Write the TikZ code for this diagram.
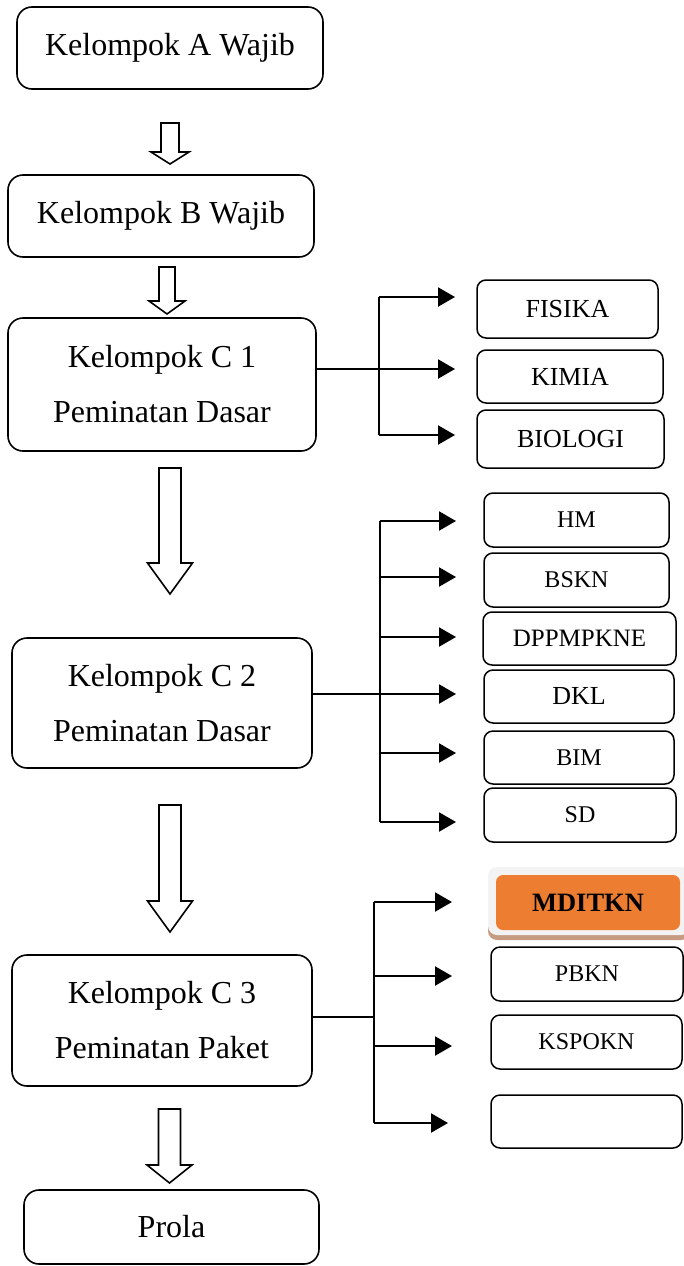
\documentclass[tikz,border=0pt]{standalone}
\usepackage{fontspec}
\setmainfont{Liberation Serif}
\usetikzlibrary{arrows.meta}
\definecolor{orng}{HTML}{ED7D31}
\definecolor{shadowbrown}{HTML}{C79B82}
\definecolor{glow}{HTML}{F3F3F3}
\tikzset{
  bigbox/.style={draw, line width=1.6pt, rounded corners=15pt, inner sep=0pt, align=center,
    font=\fontsize{32}{55}\selectfont},
  smallbox/.style={draw, line width=1.5pt, rounded corners=9pt, inner sep=0pt,
    font=\fontsize{25}{30}\selectfont},
  branch/.style={line width=2.2pt},
  arr/.style={line width=2.2pt, -{Triangle[length=17pt,width=19pt]}},
  blockarr/.style={draw, line width=1.6pt, fill=white, line join=miter}
}
\newcommand{\blockarrow}[7]{% cx, ytop, yhead, ytip, halfshaft, halfhead
  \draw[blockarr] (#1-#5,#2) -- (#1+#5,#2) -- (#1+#5,#3) -- (#1+#6,#3) -- (#1,#4)
    -- (#1-#6,#3) -- (#1-#5,#3) -- cycle;}
\begin{document}
\begin{tikzpicture}[x=1pt,y=-1pt]
\useasboundingbox (0,0) rectangle (683,1266);

% main column
\node[bigbox, minimum width=306pt, minimum height=82pt] (A) at (170,48) {Kelompok A Wajib};
\node[bigbox, minimum width=306pt, minimum height=82pt] (B) at (161,216) {Kelompok B Wajib};
\node[bigbox, minimum width=308pt, minimum height=133pt] (C1) at (162,384.5) {Kelompok C 1\\Peminatan Dasar};
\node[bigbox, minimum width=300pt, minimum height=130pt] (C2) at (162,703) {Kelompok C 2\\Peminatan Dasar};
\node[bigbox, minimum width=300pt, minimum height=131pt] (C3) at (162,1020.5) {Kelompok C 3\\Peminatan Paket};
\node[bigbox, minimum width=295pt, minimum height=74pt] (P) at (171.5,1227) {Prola};

% block arrows
\blockarrow{170}{123}{152}{164}{9}{19}{}
\blockarrow{167}{267}{301}{314}{8}{18}{}
\blockarrow{170}{468}{563}{594}{11}{22.5}{}
\blockarrow{170}{805}{901}{932}{11}{22.5}{}
\blockarrow{169.5}{1109}{1165}{1183}{11}{22.5}{}

% group 1
\node[smallbox, minimum width=181pt, minimum height=58pt, font=\fontsize{26}{30}\selectfont] (fis) at (567.5,309) {FISIKA};
\node[smallbox, minimum width=186pt, minimum height=53pt, font=\fontsize{26}{30}\selectfont] (kim) at (570,376.5) {KIMIA};
\node[smallbox, minimum width=187pt, minimum height=58pt, font=\fontsize{26}{30}\selectfont] (bio) at (570.5,439) {BIOLOGI};
\coordinate (g1t) at (379,297);
\coordinate (g1m) at (379,369);
\coordinate (g1b) at (379,435);
\coordinate (e1a) at (455,297);
\coordinate (e1b) at (455,369);
\coordinate (e1c) at (455,435);
\draw[branch] (g1t) -- (g1b);
\draw[arr] (g1t) -- (e1a);
\draw[arr] (C1.east |- g1m) -- (e1b);
\draw[arr] (g1b) -- (e1c);

% group 2
\node[smallbox, minimum width=185pt, minimum height=54pt, font=\fontsize{24}{30}\selectfont] (hm) at (576.5,520) {HM};
\node[smallbox, minimum width=185pt, minimum height=54pt, font=\fontsize{24}{30}\selectfont] (bskn) at (576.5,580) {BSKN};
\node[smallbox, minimum width=193pt, minimum height=53pt, font=\fontsize{25}{30}\selectfont] (dpp) at (579.5,638.5) {DPPMPKNE};
\node[smallbox, minimum width=190pt, minimum height=53pt, font=\fontsize{26}{30}\selectfont] (dkl) at (579,696.5) {DKL};
\node[smallbox, minimum width=190pt, minimum height=53pt, font=\fontsize{24}{30}\selectfont] (bim) at (579,757.5) {BIM};
\node[smallbox, minimum width=192pt, minimum height=54pt, font=\fontsize{24}{30}\selectfont] (sd) at (580,815) {SD};
\coordinate (g2t) at (380,521);
\coordinate (g2b) at (380,822);
\draw[branch] (g2t) -- (g2b);
\coordinate (e2a) at (456,521);
\coordinate (e2b) at (456,577);
\coordinate (e2c) at (456,637);
\coordinate (e2d) at (456,694);
\coordinate (e2e) at (456,753);
\coordinate (e2f) at (456,822);
\draw[arr] (g2t) -- (e2a);
\draw[arr] (e2b -| g2t) -- (e2b);
\draw[arr] (e2c -| g2t) -- (e2c);
\draw[arr] (C2.east |- e2d) -- (e2d);
\draw[arr] (e2e -| g2t) -- (e2e);
\draw[arr] (g2b) -- (e2f);

% group 3
\fill[shadowbrown, rounded corners=9pt] (488,874) rectangle (690,940);
\fill[glow, rounded corners=9pt] (488,867) rectangle (690,935);
\node[fill=orng, rounded corners=7pt, minimum width=184pt, minimum height=55pt, inner sep=0pt,
  font=\fontsize{26.5}{30}\selectfont\bfseries] (md) at (588,902.5) {MDITKN};
\node[smallbox, minimum width=192pt, minimum height=54pt, font=\fontsize{24}{30}\selectfont] (pbkn) at (587,974) {PBKN};
\node[smallbox, minimum width=191pt, minimum height=54pt, font=\fontsize{24}{30}\selectfont] (ksp) at (586.5,1042) {KSPOKN};
\node[smallbox, minimum width=191pt, minimum height=53pt] (emp) at (586.5,1121.5) {};
\coordinate (g3t) at (374,902);
\coordinate (g3m) at (374,1017);
\coordinate (g3b) at (374,1123);
\draw[branch] (g3t) -- (g3b);
\draw[line width=1.3pt] (C3.east |- g3m) -- (g3m);
\coordinate (e3a) at (452,902);
\coordinate (e3b) at (452,976);
\coordinate (e3c) at (452,1046);
\coordinate (e3d) at (448,1123);
\draw[arr] (g3t) -- (e3a);
\draw[arr] (e3b -| g3t) -- (e3b);
\draw[arr] (e3c -| g3t) -- (e3c);
\draw[arr] (g3b) -- (e3d);
\end{tikzpicture}
\end{document}
